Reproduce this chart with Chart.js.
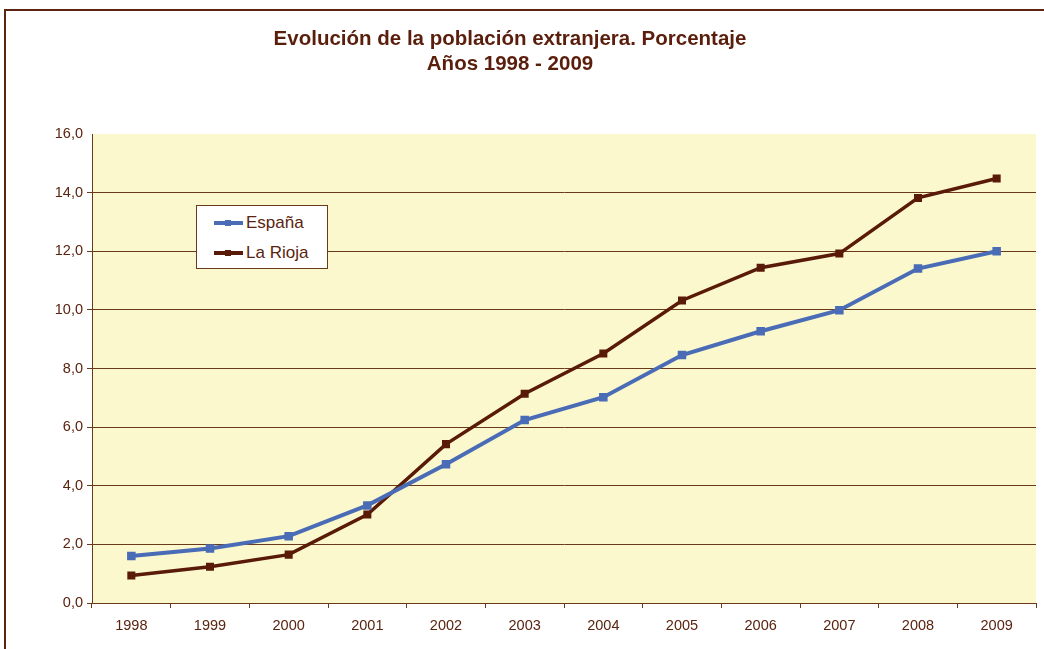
<!DOCTYPE html>
<html lang="es">
<head>
  <meta charset="UTF-8">
  <title>Evolución de la población extranjera</title>
  <script src="https://cdn.jsdelivr.net/npm/chart.js"></script>
  <style>
    body { margin: 0; background: #fff; font-family: "Liberation Sans", Arial, sans-serif; }
    #wrap { position: relative; width: 1044px; height: 649px; overflow: hidden; }
    #frame { position: absolute; left: 4px; top: 9px; width: 1100px; height: 700px;
             border-top: 2px solid #5a2410; border-left: 2px solid #5a2410; }
    #title { position: absolute; left: 210px; width: 600px; top: 25px; text-align: center;
             color: #5a1e0c; font-weight: bold; font-size: 20.5px; line-height: 25px; }
    #legend { position: absolute; left: 196px; top: 205px; width: 130px; height: 62px;
              background: #fff; border: 1px solid #6b3a1a; color: #5a2410; font-size: 17px; }
    #legend div { position: absolute; left: 17px; height: 20px; line-height: 20px; }
    #legend span.s { display: inline-block; position: relative; width: 29px; height: 4px; vertical-align: middle; margin-right: 3px; top: -1px; }
    #legend span.s i { position: absolute; left: 11px; top: -1px; width: 6px; height: 6px; }
    canvas { position: absolute; left: 0; top: 0; }
  </style>
</head>
<body>
<div id="wrap">
  <div id="frame"></div>
  <canvas id="chart" width="1044" height="649"></canvas>
  <div id="title">Evolución de la población extranjera. Porcentaje<br>Años 1998 - 2009</div>
  <div id="legend"></div>
</div>

<script>
const years = ['1998', '1999', '2000', '2001', '2002', '2003', '2004', '2005', '2006', '2007', '2008', '2009'];
const espana = [1.60, 1.86, 2.28, 3.33, 4.73, 6.24, 7.02, 8.46, 9.27, 9.99, 11.41, 12.00];
const laRioja = [0.94, 1.24, 1.65, 3.02, 5.42, 7.14, 8.51, 10.32, 11.44, 11.92, 13.82, 14.48];

const seriesNames = ['España', 'La Rioja'];
const seriesColors = ['#4a6cb6', '#5a1a08'];

// yellow plot background
const plotBg = {
  id: 'plotBg',
  beforeDraw(chart) {
    const { ctx, chartArea: a } = chart;
    ctx.save();
    ctx.fillStyle = '#fbf8cd';
    ctx.fillRect(a.left, a.top, a.right - a.left, a.bottom - a.top);
    ctx.restore();
  }
};

const tickFont = { family: '"Liberation Sans", Arial', size: 14.5 };

const ctx = document.getElementById('chart').getContext('2d');
new Chart(ctx, {
  type: 'line',
  data: {
    labels: years,
    datasets: [
      { label: seriesNames[0], data: espana, borderColor: seriesColors[0], backgroundColor: seriesColors[0],
        borderWidth: 4, pointStyle: 'rect', pointRadius: 3.2, tension: 0 },
      { label: seriesNames[1], data: laRioja, borderColor: seriesColors[1], backgroundColor: seriesColors[1],
        borderWidth: 3.5, pointStyle: 'rect', pointRadius: 3.2, tension: 0 }
    ]
  },
  options: {
    responsive: false,
    animation: false,
    layout: { padding: { top: 134, right: 7, left: 0, bottom: 0 } },
    plugins: { legend: { display: false }, title: { display: false }, tooltip: { enabled: false } },
    scales: {
      x: {
        offset: true,
        grid: { offset: true, drawOnChartArea: false, drawTicks: true, tickLength: 5, color: '#6b3a1a' },
        border: { color: '#6b3a1a', width: 1 },
        ticks: { color: '#5a2410', font: tickFont, padding: 9, maxRotation: 0 },
        afterFit(s) { s.height = 46; }
      },
      y: {
        min: 0, max: 16,
        ticks: { stepSize: 2, color: '#5a2410', font: tickFont, padding: 4,
                 callback: v => v.toFixed(1).replace('.', ',') },
        grid: { tickLength: 5, color: c => (c.tick && c.tick.value === 16) ? 'rgba(0,0,0,0)' : '#6b3a1a',
                drawTicks: true, lineWidth: 1 },
        border: { color: '#6b3a1a', width: 1 },
        afterFit(s) { s.width = 92; }
      }
    }
  },
  plugins: [plotBg]
});

// legend box
const legend = document.getElementById('legend');
seriesNames.forEach((name, i) => {
  const row = document.createElement('div');
  row.style.top = (7 + i * 30) + 'px';
  row.innerHTML = '<span class="s" style="background:' + seriesColors[i] + '"><i style="background:' + seriesColors[i] + '"></i></span>' + name;
  legend.appendChild(row);
});
</script>
</body>
</html>
